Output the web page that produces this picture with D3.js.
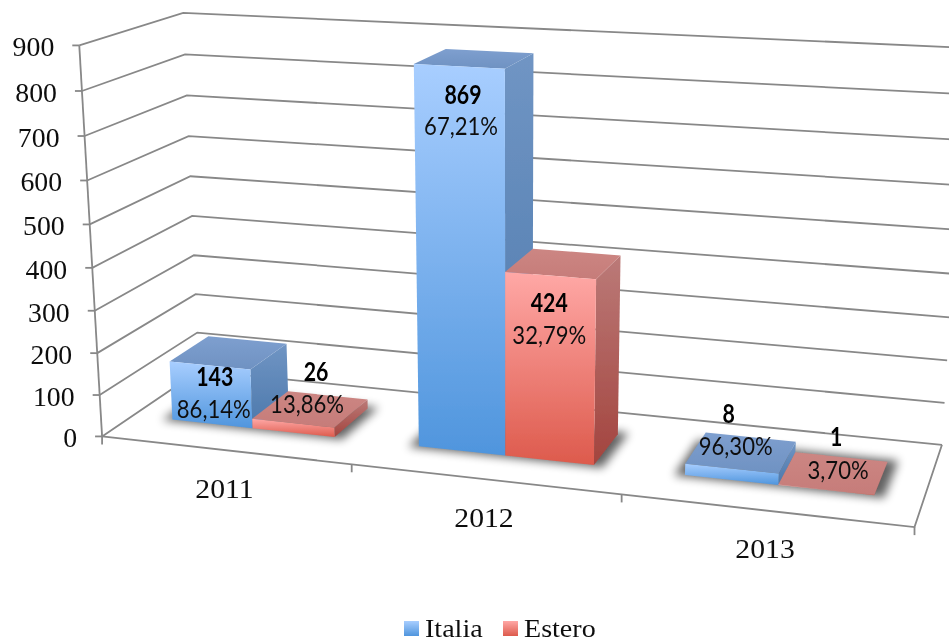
<!DOCTYPE html>
<html>
<head>
<meta charset="utf-8">
<script src="https://cdn.jsdelivr.net/npm/d3@7"></script>
<style>
html,body{margin:0;padding:0;background:#fff;overflow:hidden}
svg{display:block}
.ax{font-family:"Liberation Serif",serif;font-size:27px;fill:#111}
.lg{font-family:"Liberation Serif",serif;font-size:26px;fill:#111}
.val{font-family:Lato,sans-serif;font-size:26px;font-weight:700;fill:#000}
.pct{font-family:Lato,sans-serif;font-size:26px;fill:#111}
</style>
</head>
<body>
<svg id="c" width="949" height="643"></svg>
<script>
// ---- data ----
const years = ["2011", "2012", "2013"];
const seriesNames = ["Italia", "Estero"];
const italia = [143, 869, 26];
const estero = [23, 424, 1];
const italiaLabels = ["143", "869", "8"];
const esteroLabels = ["26", "424", "1"];
const italiaPct = ["86,14%", "67,21%", "96,30%"];
const esteroPct = ["13,86%", "32,79%", "3,70%"];
const yTicks = [0, 100, 200, 300, 400, 500, 600, 700, 800, 900];

// ---- camera calibration: world [across, depth, height] -> screen ----
const anchors = [
  [[0,0,0],[102,436]], [[1,0,0],[352,465]], [[2,0,0],[621,495]], [[3,0,0],[915,527]],
  [[0,1,0],[198,372]], [[3,1,0],[942,443]],
  [[0,0,1],[79,43]], [[0,1,1],[183,12]], [[3,1,1],[967,46]],
  [[0,0,5/9],[90.5,223]], [[0,1,5/9],[192,176]], [[3,1,5/9],[955,230]],
  [[7/6,0.3,869/900],[413.5,66]], [[1.5,0.3,869/900],[505,70]], [[1.5,0.71,869/900],[532,56]]
];
function fitCamera(pts) {
  const n = 11, A = d3.range(n).map(() => new Array(n + 1).fill(0));
  const add = (r, b) => { for (let i = 0; i < n; i++) { for (let j = 0; j < n; j++) A[i][j] += r[i] * r[j]; A[i][n] += r[i] * b; } };
  pts.forEach(([[x,y,z],[u,v]]) => {
    add([x,y,z,1,0,0,0,0,-u*x,-u*y,-u*z], u);
    add([0,0,0,0,x,y,z,1,-v*x,-v*y,-v*z], v);
  });
  for (let i = 0; i < n; i++) {
    let p = i; for (let k = i + 1; k < n; k++) if (Math.abs(A[k][i]) > Math.abs(A[p][i])) p = k;
    [A[i], A[p]] = [A[p], A[i]];
    for (let k = 0; k < n; k++) if (k !== i) {
      const f = A[k][i] / A[i][i];
      for (let j = i; j <= n; j++) A[k][j] -= f * A[i][j];
    }
  }
  return A.map((r, i) => r[n] / r[i]);
}
const P = fitCamera(anchors);
const project = (x, y, z) => {
  const w = P[8]*x + P[9]*y + P[10]*z + 1;
  return [(P[0]*x + P[1]*y + P[2]*z + P[3]) / w, (P[4]*x + P[5]*y + P[6]*z + P[7]) / w];
};

// ---- scales ----
const zScale = d3.scaleLinear().domain([0, 900]).range([0, 1]);
const xGroup = d3.scaleBand().domain(years).range([0, 3]);
const xSeries = d3.scaleBand().domain(seriesNames).range([1/6, 5/6]);
const depthFront = 0.30, depthBack = 0.71;

const svgRoot = d3.select("#c");
const defs = svgRoot.append("defs");
function grad(id, c0, c1) {
  const g = defs.append("linearGradient").attr("id", id).attr("x1", 0).attr("y1", 0).attr("x2", 0).attr("y2", 1);
  g.append("stop").attr("offset", 0).attr("stop-color", c0);
  g.append("stop").attr("offset", 1).attr("stop-color", c1);
}
const faces = {
  Italia: { front: ["#a8ceff", "#4f95dd"], side: ["#7095c4", "#4c78ab"], top: ["#7e9fcf", "#6f92c2"] },
  Estero: { front: ["#ffa8a6", "#dd5a4c"], side: ["#bb7a78", "#a3443e"], top: ["#cc8683", "#c67c79"] }
};
Object.entries(faces).forEach(([s, f]) => Object.entries(f).forEach(([k, c]) => grad(s + k, c[0], c[1])));
const blur = defs.append("filter").attr("id", "sh").attr("x", "-30%").attr("y", "-50%").attr("width", "160%").attr("height", "200%");
blur.append("feGaussianBlur").attr("stdDeviation", 5);
const soft = defs.append("filter").attr("id", "soft").attr("filterUnits", "userSpaceOnUse")
  .attr("x", 0).attr("y", 0).attr("width", 949).attr("height", 643);
soft.append("feGaussianBlur").attr("stdDeviation", 0.4);
svgRoot.append("rect").attr("width", 949).attr("height", 643).attr("fill", "#fff");
const svg = svgRoot.append("g").attr("filter", "url(#soft)");

const poly = d3.line();
const gridG = svg.append("g").attr("fill", "none").attr("stroke", "#888").attr("stroke-width", 1.8);

// text placed at a point and narrowed or widened horizontally
function label(cls, anchor, x, y, sx, txt) {
  svg.append("text").attr("class", cls).attr("text-anchor", anchor)
    .attr("transform", `translate(${x},${y}) scale(${sx},1)`).text(txt);
}

// gridlines: front-left -> back-left -> back-right
yTicks.forEach(t => {
  const z = zScale(t);
  gridG.append("path").attr("d", poly([project(0,0,z), project(0,1,z), project(3,1,z)]));
  const a = project(0,0,z);
  gridG.append("path").attr("d", poly([a, [a[0] - 7, a[1]]]));
  label("ax", "end", a[0] - 25, a[1] + 11, 1.03, t);
});
// left axis, floor front and right edges, category ticks
gridG.append("path").attr("d", poly([project(0,0,0), project(0,0,1)]));
gridG.append("path").attr("d", poly([project(0,0,0), project(3,0,0), project(3,1,0)]));
d3.range(4).forEach(i => {
  const a = project(i,0,0);
  gridG.append("path").attr("d", poly([a, [a[0], a[1] + 8]]));
});

// category labels
years.forEach(y => {
  const a = project(xGroup(y) + xGroup.bandwidth() / 2, 0, 0);
  label("ax", "middle", a[0], a[1] + 47.5, 1.1, y);
});

// shadows
const data = seriesNames.map((s, si) => ({ s, vals: si ? estero : italia }));
years.forEach(y => {
  const x0 = xGroup(y) + xSeries.range()[0] - 0.035, x1 = xGroup(y) + xSeries.range()[1] + 0.035;
  const pts = [[x0, depthFront - 0.02], [x1, depthFront - 0.02], [x1, depthBack + 0.03], [x0, depthBack + 0.03]]
    .map(p => project(p[0], p[1], 0));
  svg.append("path").attr("d", poly(pts) + "Z").attr("fill", "#000").attr("opacity", 0.62).attr("filter", "url(#sh)");
});

// bars
function drawBar(s, y, v) {
  const x0 = xGroup(y) + xSeries(s), x1 = x0 + xSeries.bandwidth(), z = zScale(v);
  const g = svg.append("g").attr("class", "bar");
  const f = depthFront, b = depthBack;
  g.append("path").attr("fill", `url(#${s}side)`).attr("d", poly([project(x1,f,z), project(x1,b,z), project(x1,b,0), project(x1,f,0)]) + "Z");
  g.append("path").attr("fill", `url(#${s}top)`).attr("d", poly([project(x0,f,z), project(x0,b,z), project(x1,b,z), project(x1,f,z)]) + "Z");
  g.append("path").attr("fill", `url(#${s}front)`).attr("d", poly([project(x0,f,z), project(x1,f,z), project(x1,f,0), project(x0,f,0)]) + "Z");
}
data.forEach(d => years.forEach((y, i) => drawBar(d.s, y, d.vals[i])));

// data labels: offsets from the top-centre of each bar's front face
const valueOffsets = [[[5,12],[4,29],[-3,-55]], [[23,-51],[-1,27],[10,-53]]];
const pctOffsets = [[[4,44],[2,60],[4,-23]], [[14,-19],[-1,59],[12,-20]]];
data.forEach((d, si) => years.forEach((y, i) => {
  const x = xGroup(y) + xSeries(d.s) + xSeries.bandwidth() / 2;
  const a = project(x, depthFront, zScale(d.vals[i]));
  const vl = (si ? esteroLabels : italiaLabels)[i], pl = (si ? esteroPct : italiaPct)[i];
  label("val", "middle", a[0] + valueOffsets[si][i][0], a[1] + valueOffsets[si][i][1] + 9, 0.82, vl);
  label("pct", "middle", a[0] + pctOffsets[si][i][0], a[1] + pctOffsets[si][i][1] + 9, 0.85, pl);
}));

// legend
const legendX = [404, 503];
seriesNames.forEach((s, i) => {
  svg.append("rect").attr("x", legendX[i]).attr("y", 621).attr("width", 15).attr("height", 15).attr("fill", `url(#${s}front)`);
  label("lg", "start", legendX[i] + 21, 637, 1.08, s);
});
</script>
</body>
</html>
